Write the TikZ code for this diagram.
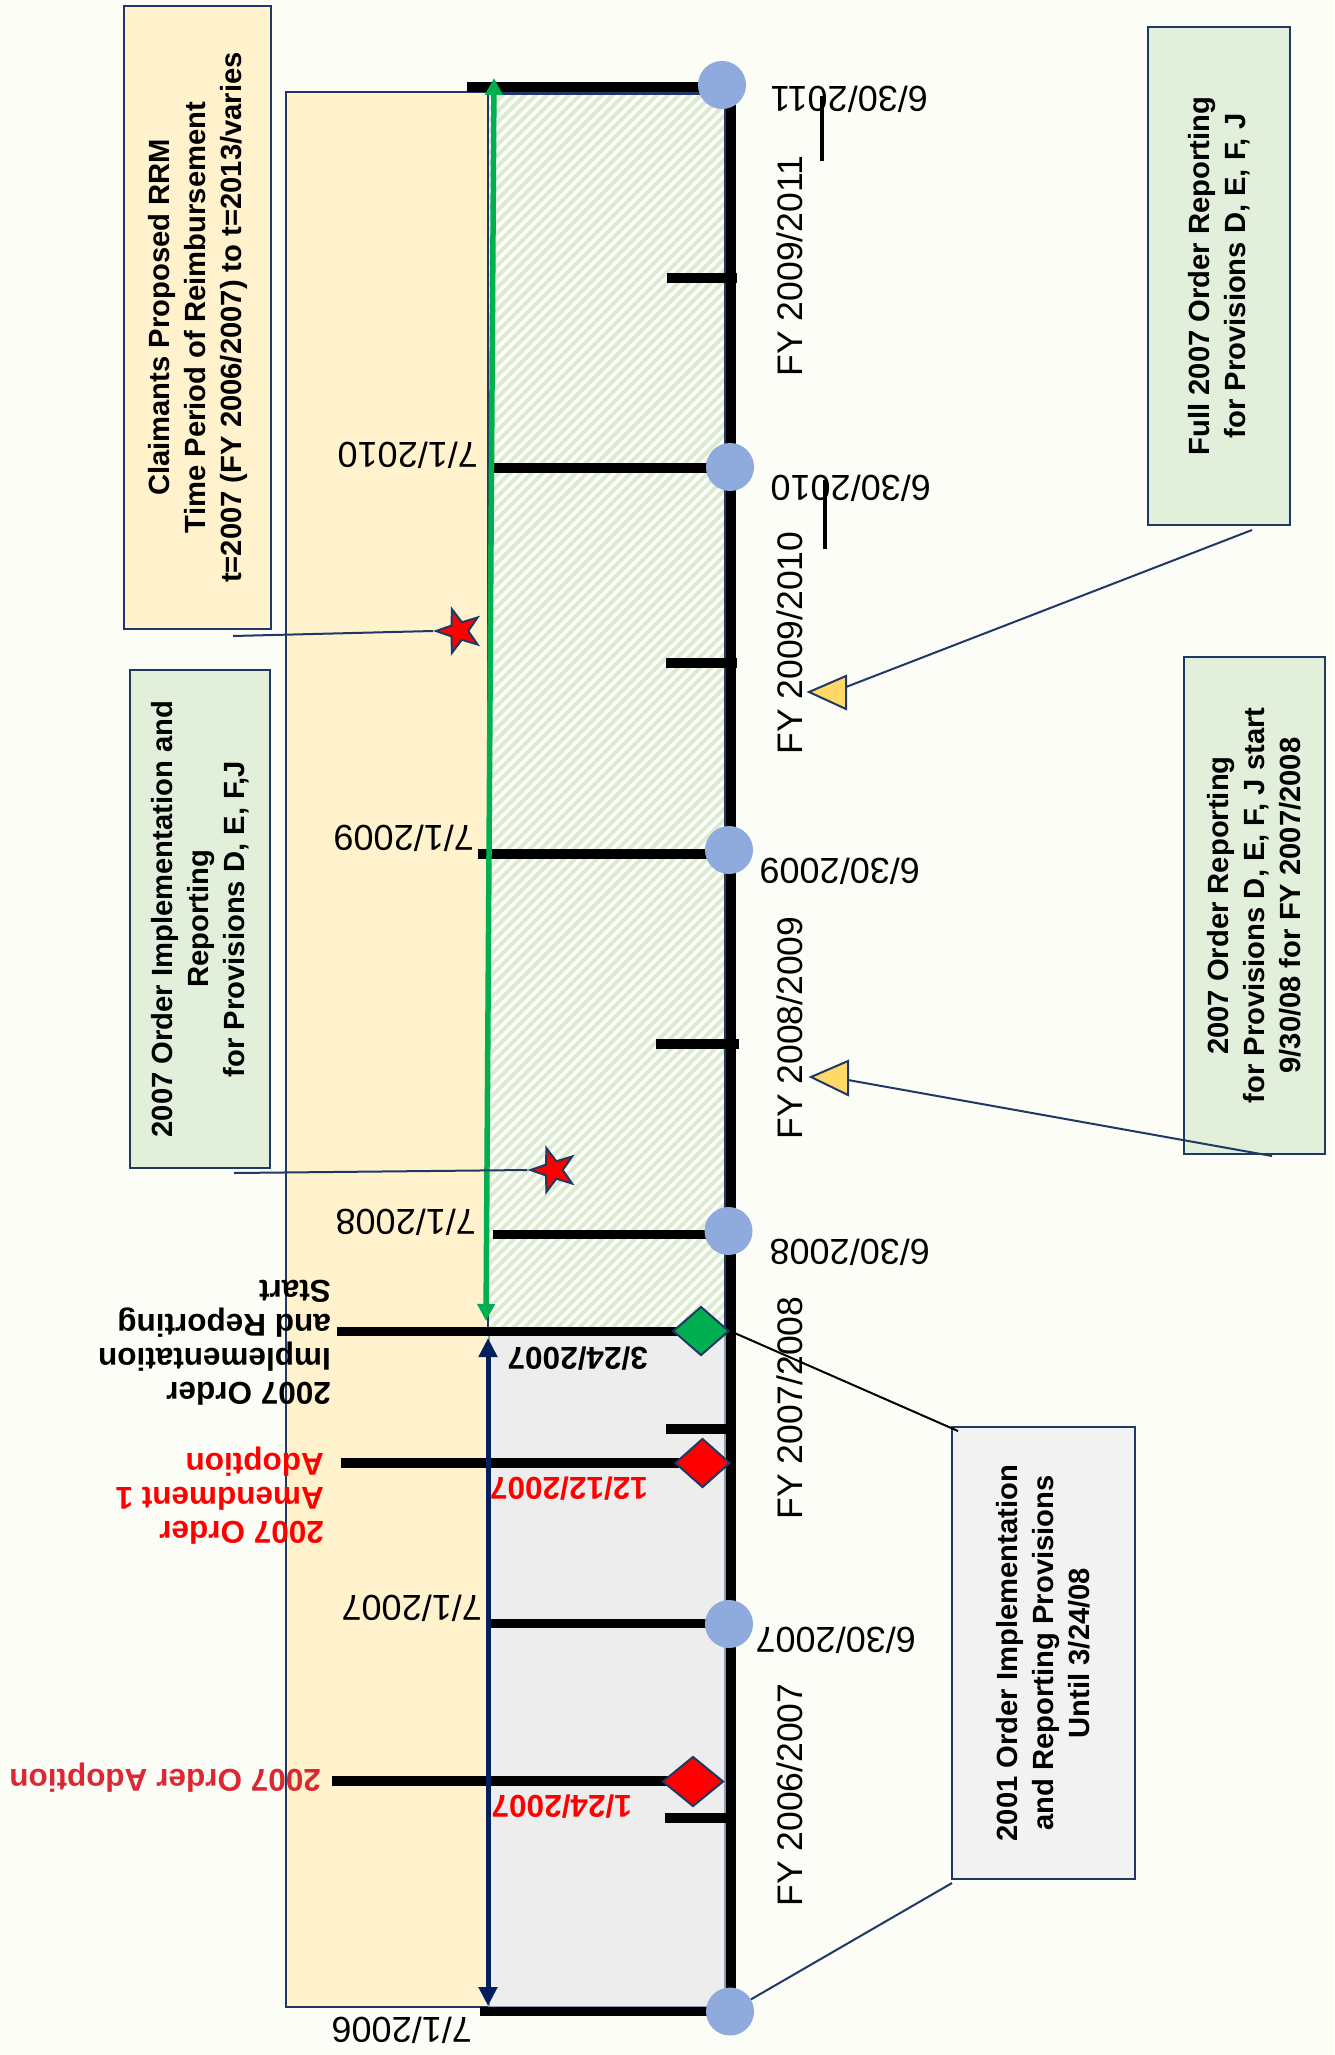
\documentclass[tikz,border=0pt]{standalone}
\usepackage{fontspec}
\setmainfont{Liberation Sans}
\usetikzlibrary{shapes.geometric,arrows.meta}
\definecolor{bgc}{HTML}{FDFDF7}
\definecolor{navy}{HTML}{1F3864}
\definecolor{navyarrow}{HTML}{002060}
\definecolor{ggreen}{HTML}{00B050}
\definecolor{yfill}{HTML}{FFF2CC}
\definecolor{gfill}{HTML}{E2EFDA}
\definecolor{grayfill}{HTML}{F2F2F2}
\definecolor{grayreg}{HTML}{EDEDED}
\definecolor{dotblue}{HTML}{8FAADC}
\definecolor{stripec}{HTML}{DCEBD0}
\definecolor{triy}{HTML}{FFD966}
\definecolor{redA}{HTML}{FF0000}
\definecolor{redB}{HTML}{DC2832}
\newcommand\fntbox{\fontsize{29.2}{36}\selectfont\bfseries}
\newcommand\fntdate{\fontsize{36}{40}\selectfont}
\newcommand\fntfy{\fontsize{35.5}{40}\selectfont}
\newcommand\fntev{\fontsize{31.5}{34}\selectfont\bfseries}
\begin{document}
\begin{tikzpicture}[x=1pt,y=-1pt,
  ax/.style={line width=10pt, black},
  tickline/.style={line width=9.5pt, black},
  dot/.style={circle, fill=dotblue, minimum size=48pt, inner sep=0pt},
  diam/.style={diamond, draw=navy, line width=2pt, inner sep=0pt},
  starnode/.style={star, star points=5, star point ratio=2.5, shape border rotate=90, fill=redA, draw=navy, line width=2pt, minimum size=46pt, inner sep=0pt},
  tri/.style={fill=triy, draw=navy, line width=2pt, line join=miter},
  conn/.style={navy, line width=2pt},
  textbox/.style={draw=navy, line width=2.2pt, inner sep=0pt, rotate=90, align=center, font=\fntbox},
  updn/.style={rotate=180, anchor=base west, inner sep=0pt, font=\fntdate},
  evd/.style={rotate=180, anchor=base west, inner sep=0pt, font=\fntev},
  evb/.style={rotate=180, anchor=north west, inner sep=0pt, align=left, font=\fntev},
  fy/.style={rotate=90, anchor=base, inner sep=0pt, font=\fntfy},
  tip/.style={Triangle[length=17pt,width=17pt]}
]
\useasboundingbox (0,0) rectangle (1334,2055);
\fill[bgc] (0,0) rectangle (1334,2055);

% background regions
\path[draw=navy, line width=2pt, fill=yfill] (286,92) rectangle (725,2007);
\fill[white] (488,94) rectangle (725,1331);
\begin{scope}
  \clip (488,94) rectangle (725,1331);
  \foreach \k in {-120,...,22} \draw[stripec, line width=4pt] (488+11*\k,1331) -- ++(1300,-1300);
\end{scope}
\draw[navy, line width=1.8pt] (488,94) rectangle (725,1331);
\draw[navy!50, line width=1.5pt, fill=grayreg] (489,1331) rectangle (725,2007);

% horizontal date lines
\draw[tickline] (467,87) -- (718,87);
\draw[tickline] (493,468) -- (725,468);
\draw[tickline] (478,854) -- (725,854);
\draw[tickline] (493,1234.5) -- (725,1234.5);
\draw[tickline] (491,1623.5) -- (725,1623.5);
\draw[tickline] (480,2011.5) -- (725,2011.5);
% mid-year ticks
\draw[tickline] (667,278) -- (737,278);
\draw[tickline] (666,663) -- (737,663);
\draw[tickline] (656,1044) -- (739,1044);
\draw[tickline] (666,1429) -- (736,1429);
\draw[tickline] (665,1818) -- (735,1818);
% event lines
\draw[tickline] (337,1331.5) -- (690,1331.5);
\draw[tickline] (341,1463) -- (690,1463);
\draw[tickline] (332,1781) -- (680,1781);

% axis
\draw[ax] (731,95) -- (731,2011);

% vertical arrows
\coordinate (gaT) at (494,78);
\coordinate (gaB) at (486,1321);
\draw[ggreen, line width=5.5pt, {Triangle[length=17pt,width=17pt]}-{Triangle[length=17pt,width=17pt]}] (gaB) -- (gaT);
\coordinate (naT) at (488,1338);
\coordinate (naB) at (488,2006);
\draw[navyarrow, line width=5pt, {Triangle[length=19pt,width=18pt]}-{Triangle[length=19pt,width=18pt]}] (naT) -- (naB);

% small vertical marks
\draw[black, line width=4pt] (822,96) -- (822,161);
\draw[black, line width=4pt] (825,480) -- (825,549);

% fiscal year end dots
\node[dot] (c2011) at (722,85) {};
\node[dot] (c2010) at (730,467) {};
\node[dot] (c2009) at (729,850) {};
\node[dot] (c2008) at (728.5,1231) {};
\node[dot] (c2007) at (729,1624) {};
\node[dot] (c2006) at (730,2011.5) {};

% event diamonds
\node[diam, fill=ggreen, minimum width=56pt, minimum height=49pt] (gd) at (701,1331) {};
\node[diam, fill=redA, minimum width=55pt, minimum height=49pt] (rd1) at (702.5,1463) {};
\node[diam, fill=redA, minimum width=61pt, minimum height=50pt] (rd2) at (693,1781.5) {};

% stars
\node[starnode] (s1) at (459,631) {};
\node[starnode] (s2) at (553.5,1170) {};

% triangles
\draw[tri] (809,692) -- (846,676) -- (846,709) -- cycle;
\draw[tri] (811,1077) -- (848,1061) -- (848,1095) -- cycle;

% boxes
\node[textbox, fill=yfill, minimum width=623pt, minimum height=147pt] (claim) at (197.5,317.5)
  {Claimants Proposed RRM\\Time Period of Reimbursement\\t=2007 (FY 2006/2007) to t=2013/varies};
\node[textbox, fill=gfill, minimum width=498pt, minimum height=140pt] (impl) at (200,919)
  {2007 Order Implementation and\\Reporting\\for Provisions D, E, F,J};
\node[textbox, fill=gfill, minimum width=498pt, minimum height=142pt] (full) at (1219,276)
  {Full 2007 Order Reporting\\for Provisions D, E, F, J};
\node[textbox, fill=gfill, minimum width=497pt, minimum height=141pt] (rep) at (1254.5,905.5)
  {2007 Order Reporting\\for Provisions D, E, F, J start\\9/30/08 for FY 2007/2008};
\node[textbox, fill=grayfill, minimum width=452pt, minimum height=183pt] (old) at (1043.5,1653)
  {2001 Order Implementation\\and Reporting Provisions\\Until 3/24/08};

% connectors
\coordinate (k1) at (233,636);
\draw[conn] (k1) -- (s1.west);
\coordinate (k2) at (234,1173);
\draw[conn] (k2) -- (s2.west);
\coordinate (t1b) at (846,687);
\coordinate (t1e) at (1252,530);
\draw[conn] (t1b) -- (t1e);
\coordinate (t2b) at (848,1080);
\coordinate (t2e) at (1272,1156);
\draw[conn] (t2b) -- (t2e);
\coordinate (oldTL) at (958,1431);
\draw[black, line width=2pt] (gd.east) -- (oldTL);
\coordinate (oldBL) at (952,1883);
\draw[conn] (c2006) -- (oldBL);

% date labels (upside down)
\node[updn] (l0710) at (478,442) {7/1/2010};
\node[updn] (l0709) at (474,825) {7/1/2009};
\node[updn] (l0708) at (476,1209) {7/1/2008};
\node[updn] (l0707) at (482,1595) {7/1/2007};
\node[updn] (l0706) at (472,2017) {7/1/2006};
\node[updn] (l3011) at (928,87) {6/30/2011};
\node[updn] (l3010) at (931,475) {6/30/2010};
\node[updn] (l3009) at (920,858) {6/30/2009};
\node[updn] (l3008) at (930,1239) {6/30/2008};
\node[updn] (l3007) at (916,1627) {6/30/2007};

% event date labels
\node[evd] (e1) at (648,1347) {3/24/2007};
\node[evd, text=redA] (e2) at (648,1477) {12/12/2007};
\node[evd, text=redA] (e3) at (632,1795) {1/24/2007};

% event descriptions
\node[evb] (ev1) at (331,1406) {2007 Order\\Implementation\\and Reporting\\Start};
\node[evb, text=redA] (ev2) at (324,1545) {2007 Order\\Amendment 1\\Adoption};
\node[evd, text=redB] (ev3) at (321,1769) {2007 Order Adoption};

% fiscal year labels
\node[fy] (fy1) at (802,266) {FY 2009/2011};
\node[fy] (fy2) at (802,643) {FY 2009/2010};
\node[fy] (fy3) at (802,1028) {FY 2008/2009};
\node[fy] (fy4) at (802,1408) {FY 2007/2008};
\node[fy] (fy5) at (802,1795) {FY 2006/2007};
\end{tikzpicture}
\end{document}
